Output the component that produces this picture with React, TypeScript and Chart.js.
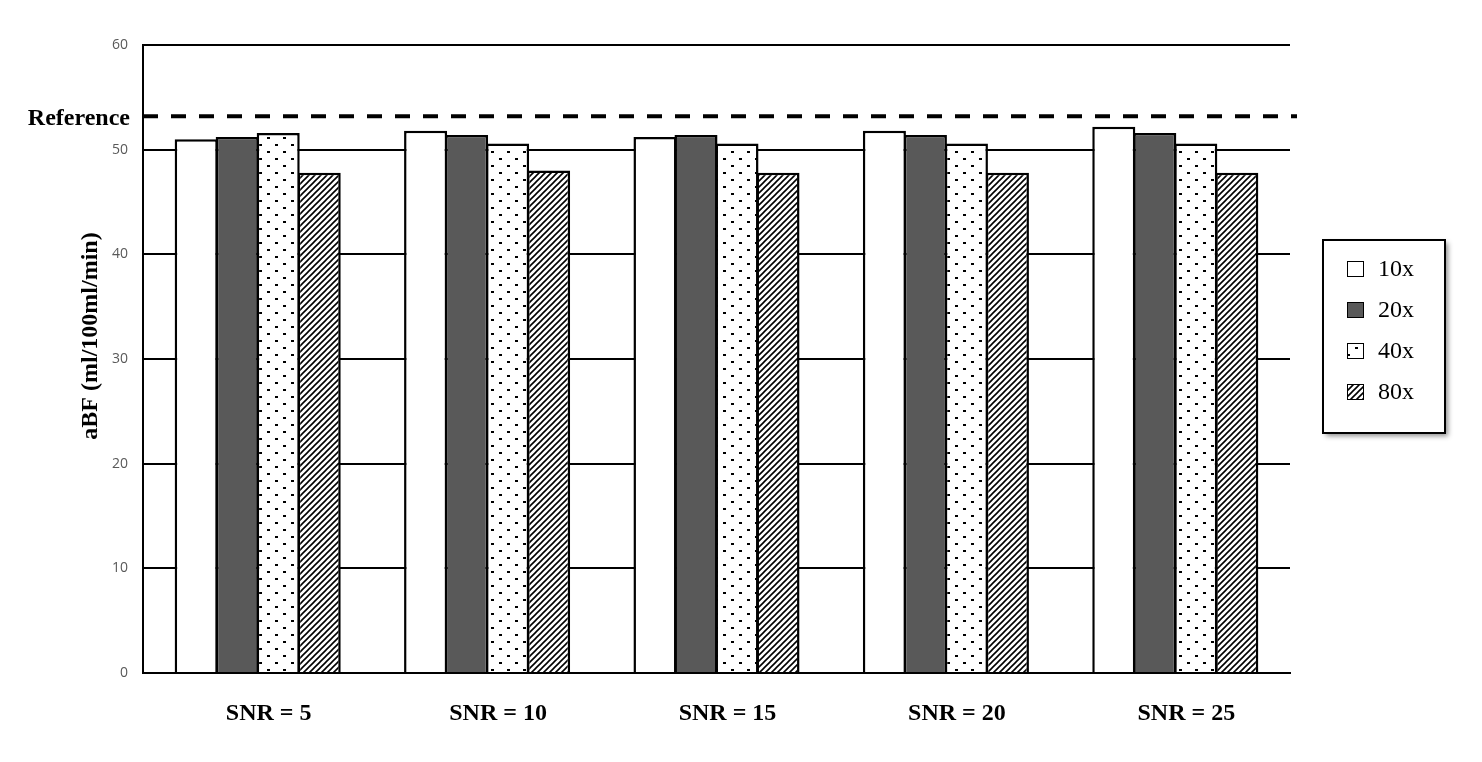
import React, { useEffect, useRef } from 'react';
import { Chart, registerables } from 'chart.js';

Chart.register(...registerables);

const categories = ['SNR = 5', 'SNR = 10', 'SNR = 15', 'SNR = 20', 'SNR = 25'];
const seriesLabels = ['10x', '20x', '40x', '80x'];
const values10x = [51.0, 51.8, 51.2, 51.8, 52.2];
const values20x = [51.2, 51.4, 51.4, 51.4, 51.6];
const values40x = [51.6, 50.6, 50.6, 50.6, 50.6];
const values80x = [47.8, 48.0, 47.8, 47.8, 47.8];
const referenceValue = 53.2;
const referenceLabel = 'Reference';
const yAxisTitle = 'aBF (ml/100ml/min)';
const yMin = 0;
const yMax = 60;
const yStep = 10;

const SERIF = "'Liberation Serif', 'Times New Roman', serif";

function makeDotPattern(ctx: CanvasRenderingContext2D) {
  const c = document.createElement('canvas');
  c.width = 16;
  c.height = 14;
  const g = c.getContext('2d')!;
  g.fillStyle = '#ffffff';
  g.fillRect(0, 0, 16, 14);
  g.fillStyle = '#000000';
  g.fillRect(3, 3, 3, 2);
  g.fillRect(11, 10, 3, 2);
  return ctx.createPattern(c, 'repeat')!;
}

function makeHatchPattern(ctx: CanvasRenderingContext2D) {
  const s = 6;
  const c = document.createElement('canvas');
  c.width = s;
  c.height = s;
  const g = c.getContext('2d')!;
  g.fillStyle = '#ffffff';
  g.fillRect(0, 0, s, s);
  g.strokeStyle = '#000000';
  g.lineWidth = 1.6;
  g.beginPath();
  g.moveTo(-1, s + 1);
  g.lineTo(s + 1, -1);
  g.moveTo(-2, 2);
  g.lineTo(2, -2);
  g.moveTo(s - 2, s + 2);
  g.lineTo(s + 2, s - 2);
  g.stroke();
  return ctx.createPattern(c, 'repeat')!;
}

const overlayPlugin = {
  id: 'overlay',
  afterDraw(chart: any) {
    const { ctx, chartArea, scales } = chart;
    const y = scales.y;
    ctx.save();

    // Reference dashed line
    const ry = y.getPixelForValue(referenceValue);
    ctx.strokeStyle = '#000000';
    ctx.lineWidth = 4;
    ctx.setLineDash([15, 13]);
    ctx.beginPath();
    ctx.moveTo(chartArea.left, ry);
    ctx.lineTo(chartArea.right + 7, ry);
    ctx.stroke();
    ctx.setLineDash([]);

    // Reference label
    ctx.fillStyle = '#000000';
    ctx.font = `bold 24px ${SERIF}`;
    ctx.textAlign = 'right';
    ctx.textBaseline = 'middle';
    ctx.fillText(referenceLabel, chartArea.left - 13, ry + 3);

    // Y axis title
    ctx.save();
    ctx.translate(chartArea.left - 52, (chartArea.top + chartArea.bottom) / 2 - 23);
    ctx.rotate(-Math.PI / 2);
    ctx.textAlign = 'center';
    ctx.textBaseline = 'middle';
    ctx.font = `bold 24px ${SERIF}`;
    ctx.fillText(yAxisTitle, 0, 0);
    ctx.restore();

    // Legend box
    const bx = chartArea.right + 33;
    const by = 232;
    const bw = 122;
    const bh = 193;
    ctx.save();
    ctx.shadowColor = 'rgba(0,0,0,0.45)';
    ctx.shadowBlur = 5;
    ctx.shadowOffsetX = 3;
    ctx.shadowOffsetY = 3;
    ctx.fillStyle = '#ffffff';
    ctx.fillRect(bx, by, bw, bh);
    ctx.restore();
    ctx.strokeStyle = '#000000';
    ctx.lineWidth = 2;
    ctx.strokeRect(bx, by, bw, bh);

    chart.data.datasets.forEach((ds: any, i: number) => {
      const cy = by + 29 + i * 41;
      const mx = bx + 24;
      ctx.fillStyle = ds.backgroundColor;
      ctx.fillRect(mx, cy - 8, 17, 16);
      ctx.strokeStyle = '#000000';
      ctx.lineWidth = 1;
      ctx.strokeRect(mx + 0.5, cy - 7.5, 16, 15);
      ctx.fillStyle = '#000000';
      ctx.font = `24px ${SERIF}`;
      ctx.textAlign = 'left';
      ctx.textBaseline = 'middle';
      ctx.fillText(ds.label, bx + 55, cy + 1);
    });

    ctx.restore();
  },
};

export default function App() {
  const canvasRef = useRef<HTMLCanvasElement | null>(null);

  useEffect(() => {
    const canvas = canvasRef.current!;
    const ctx = canvas.getContext('2d')!;
    const dots = makeDotPattern(ctx);
    const hatch = makeHatchPattern(ctx);
    const fills: any[] = ['#ffffff', '#595959', dots, hatch];
    const seriesValues = [values10x, values20x, values40x, values80x];

    const chart = new Chart(canvas, {
      type: 'bar',
      data: {
        labels: categories,
        datasets: seriesLabels.map((label, i) => ({
          label,
          data: seriesValues[i],
          backgroundColor: fills[i],
          borderColor: '#000000',
          borderWidth: 2.5,
          categoryPercentage: 0.715,
          barPercentage: 1.05,
        })),
      },
      options: {
        animation: false,
        responsive: true,
        maintainAspectRatio: false,
        layout: { padding: { left: 0, right: 184, top: 37, bottom: 0 } },
        plugins: {
          legend: { display: false },
          tooltip: { enabled: false },
          title: { display: false },
        },
        scales: {
          x: {
            grid: { display: false, drawTicks: false },
            border: { display: true, color: '#000000', width: 2 },
            ticks: {
              padding: 26,
              labelOffset: 11,
              color: '#000000',
              font: { family: SERIF, size: 24, weight: 'bold' },
            },
            afterFit: (scale: any) => {
              scale.height = 81;
            },
          },
          y: {
            min: yMin,
            max: yMax,
            grid: { color: '#000000', lineWidth: 2, drawTicks: false },
            border: { display: true, color: '#000000', width: 2 },
            ticks: {
              stepSize: yStep,
              padding: 15,
              color: '#595959',
              font: { family: "'Open Sans', sans-serif", size: 14 },
            },
            afterFit: (scale: any) => {
              scale.width = 135;
            },
          },
        },
      },
      plugins: [overlayPlugin],
    } as any);

    return () => chart.destroy();
  }, []);

  return (
    <div style={{ width: 1466, height: 746, position: 'relative' }}>
      <canvas ref={canvasRef} />
    </div>
  );
}
